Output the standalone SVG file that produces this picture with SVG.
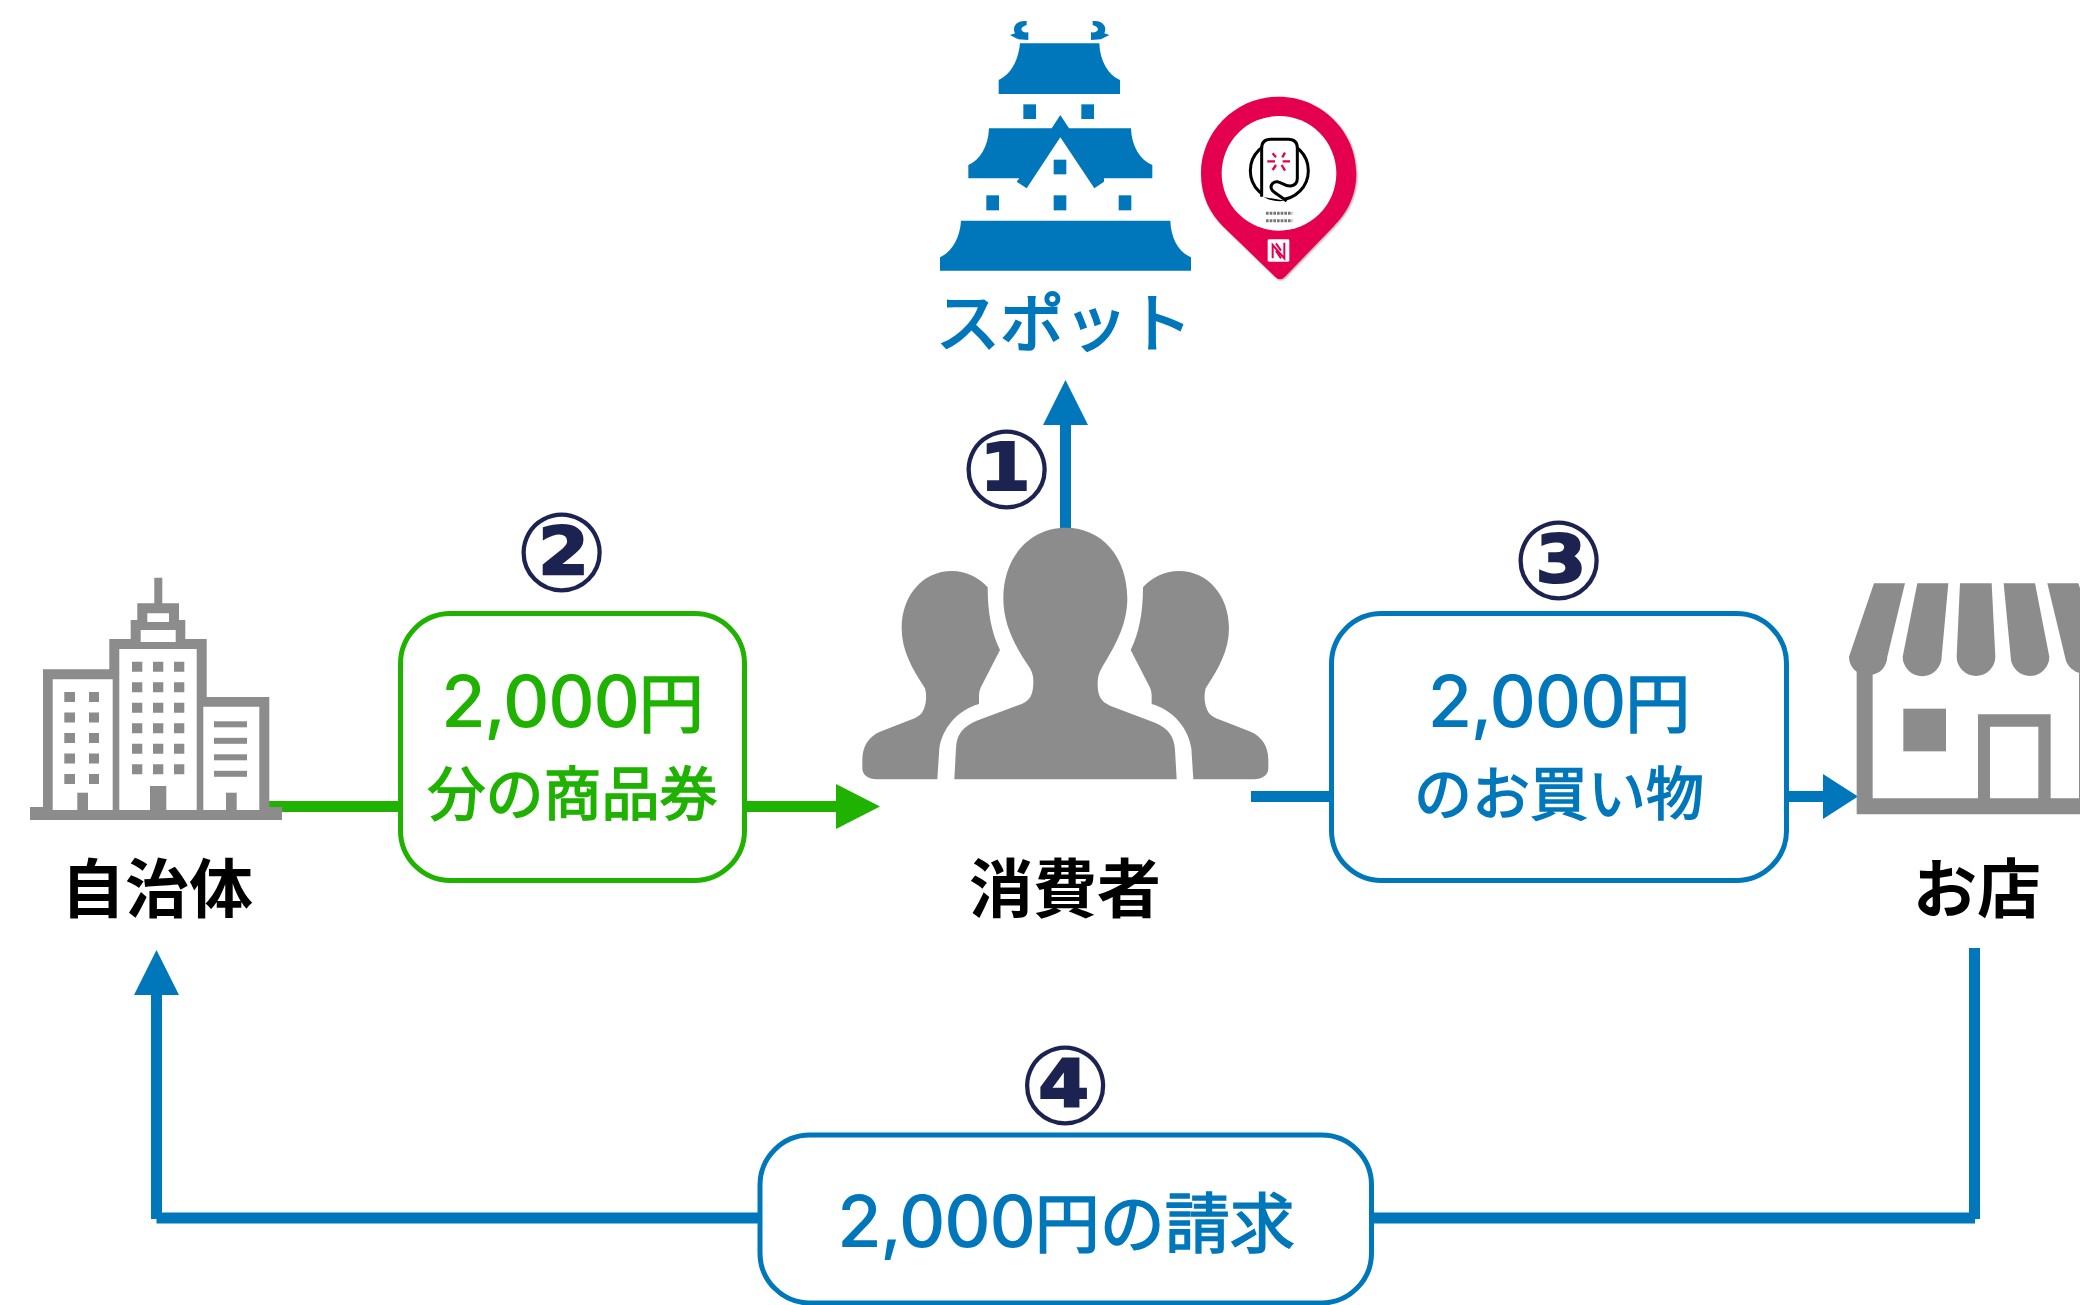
<svg xmlns="http://www.w3.org/2000/svg" width="2080" height="1305" viewBox="0 0 2080 1305">
<style>
.gray{fill:#8c8c8c}
.blue{fill:#0077bb}
.tb{fill:#0077bb;stroke:#0077bb}
.tg{fill:#1fb200;stroke:#1fb200}
.t{font-family:"Noto Sans CJK JP",sans-serif;text-anchor:middle}
.lbl{font-size:64px;font-weight:700;fill:#000}
.num{font-family:Inter,"Noto Sans CJK JP",sans-serif;font-size:72px;font-weight:500;stroke-width:0;letter-spacing:-1.200px}
.jp{font-family:"Noto Sans CJK JP",sans-serif;font-size:65px;font-weight:400;stroke-width:1.600}
.sub{font-size:58px;font-weight:400;stroke-width:1.600}
.spot{font-size:64px;font-weight:400;stroke-width:2}
.mark{font-family:"DejaVu Sans",sans-serif;font-size:110px;font-weight:700;fill:#1c2350}
.ln{fill:none;stroke-width:11}
.box{fill:#fff;stroke-width:5}
</style>
<defs>
<filter id="sh" x="-20%" y="-20%" width="150%" height="150%"><feDropShadow dx="3" dy="3" stdDeviation="3" flood-color="#000" flood-opacity=".35"/></filter>
<path id="side" d="M292,838 L298,745 C305,690 350,630 417,612 L417,585 C418,575 420,565 426,555 L480,450 C455,400 443,340 443,262 C420,235 380,213 335,213 C250,213 185,285 185,385 C185,450 215,505 255,565 C262,590 258,620 245,640 C235,650 225,655 210,660 L120,695 C85,710 67,740 67,780 L67,805 C67,825 85,838 110,838 Z"/>
<path id="shachi" d="M380,63 C350,60 335,80 345,100 L330,105 L355,118 L385,120 L385,97 C362,100 355,82 380,75 Z"/>
</defs>
<rect width="2080" height="1305" fill="#fff"/>

<g id="connectors">
<path class="ln" stroke="#1fb200" d="M269,806.500 H400 M745,806.500 H838"/>
<polygon fill="#1fb200" points="836,784 880,806.500 836,829"/>
<path class="ln" stroke="#0077bb" d="M1065.500,528 V423"/>
<polygon class="blue" points="1043,425 1065.500,380 1088,425"/>
<path class="ln" stroke="#0077bb" d="M1251,796.500 H1332 M1787,796.500 H1825"/>
<polygon class="blue" points="1823,774 1858,796.500 1823,819"/>
<path class="ln" stroke="#0077bb" d="M1974.500,948 V1219 M1975,1218 H156.500 M156.500,1219 V993"/>
<polygon class="blue" points="134,995 156.500,950 179,995"/>
</g>

<g id="spot">
<g transform="translate(900 0) scale(.33333)" class="blue">
<use href="#shachi"/>
<use href="#shachi" transform="translate(958 0) scale(-1 1)"/>
<path d="M360,130 L598,130 C600,185 625,225 660,240 L660,282 L296,282 L296,240 C330,225 355,185 360,130 Z"/>
<rect x="370" y="313" width="38" height="44"/><rect x="544" y="313" width="38" height="44"/>
<path d="M267,385 L455,385 L481,345 L507,385 L693,385 C695,440 720,480 757,495 L757,535 L612,535 L612,545 L583,565 L481,412 L380,565 L350,545 L358,535 L205,535 L205,495 C240,480 265,440 267,385 Z"/>
<rect x="461" y="479" width="38" height="44"/>
<rect x="259" y="586" width="38" height="45"/><rect x="461" y="586" width="38" height="45"/><rect x="656" y="586" width="38" height="45"/>
<path d="M183,662 L811,662 C813,715 835,755 873,772 L873,812 L120,812 L120,772 C155,755 180,715 183,662 Z"/>
</g>
<text class="t spot tb" x="1064" y="346">スポット</text>
</g>

<g id="nfc-pin" transform="translate(900 0) scale(.33333)">
<path fill="#e4004f" filter="url(#sh)" d="M1136,290 C1265,290 1369,395 1369,520 C1369,590 1340,640 1300,680 L1155,830 Q1140,845 1125,830 L970,680 C930,640 903,590 903,520 C903,395 1007,290 1136,290 Z"/>
<circle cx="1137" cy="520" r="172" fill="#fff"/>
<circle cx="1138" cy="512" r="87" fill="none" stroke="#000" stroke-width="9"/>
<path fill="#fff" stroke="#000" stroke-width="9" d="M1085,590 L1085,445 Q1085,418 1112,418 L1165,418 Q1192,418 1192,445 L1192,535 Q1192,555 1172,558 C1150,560 1135,535 1118,550 C1105,565 1120,575 1135,585 L1160,603"/>
<path fill="none" stroke="#e4004f" stroke-width="7" d="M1102,484 H1125 M1148,484 H1170 M1118,460 L1128,472 M1155,458 L1147,472 M1128,495 L1118,510 M1145,495 L1155,512"/>
<path fill="none" stroke="#777" stroke-width="9" stroke-dasharray="8 3" d="M1098,640 H1177 M1098,662 H1177"/>
<rect x="1103" y="718" width="65" height="67" rx="4" fill="#fff"/>
<path fill="none" stroke="#e4004f" stroke-width="6" d="M1118,775 V735 L1153,775 V728 M1128,730 L1143,752 M1128,752 L1143,775"/>
</g>

<g id="municipality">
<path class="gray" fill-rule="evenodd" d="M43,807 V669.300 H109.300 V639 H130.700 V620 H137.300 V603.300 H154.300 V577.700 H162.300 V603.300 H179 V620 H185.300 V639 H206.700 V697 H269.300 V807 H282 V820 H30 V807 Z
M52.700,679.300 V810 H112.700 V679.300 Z M119.300,649 V810 H196.700 V649 Z M203.300,706.700 V810 H259.300 V706.700 Z M140.700,630 V642 H175.700 V630 Z M147.300,613.300 V622 H169 V613.300 Z"/>
<g class="gray">
<path d="M64.300,692h10.700v10h-10.700zM89,692h10v10h-10zM64.300,712.500h10.700v10h-10.700zM89,712.500h10v10h-10zM64.300,733h10.700v10h-10.700zM89,733h10v10h-10zM64.300,753.500h10.700v10h-10.700zM89,753.500h10v10h-10zM64.300,774h10.700v10h-10.700zM89,774h10v10h-10z"/>
<path d="M132,661.700h10.300v10h-10.300zM153,661.700h10.300v10h-10.300zM174,661.700h10.300v10h-10.300zM132,682.200h10.300v10h-10.300zM153,682.200h10.300v10h-10.300zM174,682.200h10.300v10h-10.300zM132,702.700h10.300v10h-10.300zM153,702.700h10.300v10h-10.300zM174,702.700h10.300v10h-10.300zM132,723.200h10.300v10h-10.300zM153,723.200h10.300v10h-10.300zM174,723.200h10.300v10h-10.300zM132,743.700h10.300v10h-10.300zM153,743.700h10.300v10h-10.300zM174,743.700h10.300v10h-10.300zM132,764.200h10.300v10h-10.300zM153,764.200h10.300v10h-10.300zM174,764.200h10.300v10h-10.300z"/>
<rect x="77.300" y="792.700" width="10.700" height="18"/><rect x="150" y="786" width="16.300" height="25"/><rect x="226" y="792.700" width="10.700" height="18"/>
<rect x="214" y="721.300" width="33" height="6"/><rect x="214" y="737.800" width="33" height="6"/><rect x="214" y="754.300" width="33" height="6"/><rect x="214" y="770.800" width="33" height="6"/>
<rect x="30" y="810" width="252" height="10"/>
</g>
<text class="t lbl" x="157" y="912">自治体</text>
</g>

<g id="consumer">
<g transform="translate(840 500) scale(.33333)" class="gray">
<use href="#side"/>
<use href="#side" transform="translate(1352 0) scale(-1 1)"/>
<path d="M343,838 L348,745 C350,700 370,680 410,662 L545,612 C570,600 580,585 580,545 C580,530 578,520 570,505 C530,445 490,380 490,295 C490,170 570,83 677,83 C785,83 862,170 862,295 C862,380 820,445 782,510 C775,525 773,535 773,555 C773,590 785,605 810,617 L945,668 C985,685 1003,710 1005,750 L1010,838 Z"/>
</g>
<text class="t lbl" x="1065" y="912">消費者</text>
</g>

<g id="shop">
<g transform="translate(1760 560) scale(.33333)" class="gray">
<path fill-rule="evenodd" d="M290,300 H338 V715 H654 V463 H872 V715 H957 V300 H1005 V763 H290 Z M690,500 V715 H835 V500 Z"/>
<rect x="430" y="446" width="128" height="128"/>
<path d="M342,70 L435,70 L382,290 C380,320 360,345 325,345 C290,345 267,320 267,290 Z"/>
<path d="M472,70 L565,70 L545,290 A58.500,58.500 0 0 1 428,290 Z"/>
<path d="M600,70 L695,70 L706,290 A58,58 0 0 1 590,290 Z"/>
<path d="M731,70 L825,70 L868,290 A58,58 0 0 1 752,290 Z"/>
<path d="M862,70 L955,70 L1030,290 A58,58 0 0 1 915,290 Z"/>
</g>
<text class="t lbl" x="1977" y="912">お店</text>
</g>

<g id="box2">
<rect class="box" stroke="#1fb200" x="400.500" y="613.500" width="344" height="267" rx="50"/>
<text class="t tg" x="572.500" y="727"><tspan class="num">2,000</tspan><tspan class="jp">円</tspan></text>
<text class="t sub tg" x="572.500" y="815">分の商品券</text>
</g>
<g id="box3">
<rect class="box" stroke="#0077bb" x="1331.500" y="613.500" width="455" height="267" rx="50"/>
<text class="t tb" x="1559" y="727"><tspan class="num">2,000</tspan><tspan class="jp">円</tspan></text>
<text class="t sub tb" x="1559" y="815">のお買い物</text>
</g>
<g id="box4">
<rect class="box" stroke="#0077bb" x="760" y="1135" width="611.500" height="168" rx="50"/>
<text class="t tb" x="1066" y="1247"><tspan class="num">2,000</tspan><tspan class="jp">円の請求</tspan></text>
</g>

<g id="marks">
<text class="t mark" x="1006.500" y="508">①</text>
<text class="t mark" x="561.500" y="591">②</text>
<text class="t mark" x="1558.500" y="599">③</text>
<text class="t mark" x="1065" y="1124">④</text>
</g>
</svg>
